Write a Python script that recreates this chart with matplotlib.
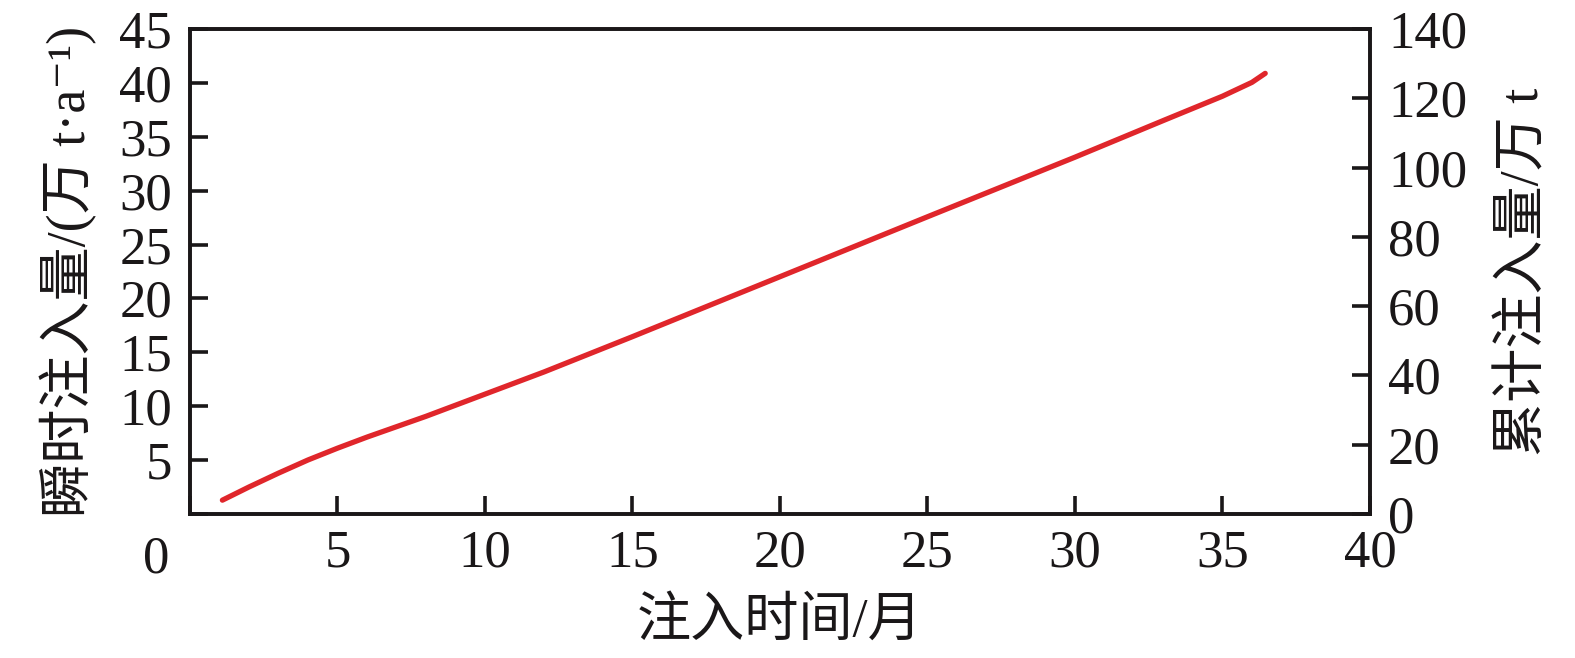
import numpy as np
import matplotlib
matplotlib.use("Agg")
import matplotlib.pyplot as plt

plt.rcParams['font.family'] = ['Liberation Serif', 'Noto Sans CJK SC', 'DejaVu Sans']

# cumulative injection (万 t) vs injection time (months)
months = [1.1, 2, 3, 4, 5, 6, 8, 10, 12, 15, 20, 25, 30, 33, 35, 36, 36.45]
cumulative = [4.0, 7.8, 11.8, 15.6, 19.0, 22.2, 28.2, 34.6, 41.0, 51.2, 68.5,
              85.8, 103.0, 113.6, 120.6, 124.6, 127.2]

x_ticks = [0, 5, 10, 15, 20, 25, 30, 35, 40]
left_ticks = [0, 5, 10, 15, 20, 25, 30, 35, 40, 45]
right_ticks = [0, 20, 40, 60, 80, 100, 120, 140]

fig = plt.figure(figsize=(15.75, 6.58), dpi=100)
ax = fig.add_axes([0.1206, 0.2188, 0.7492, 0.7371])
ax2 = ax.twinx()

ax2.plot(months, cumulative, color='#e0262b', lw=3.8, solid_capstyle='round')

fs = 38
lfs = 39
ink = '#1a1718'
ax.set_xlim(0, 40)
ax.set_ylim(0, 45)
ax2.set_ylim(0, 140)

ax.set_xticks(x_ticks)
ax.set_xticklabels([''] + [str(t) for t in x_ticks[1:]])
ax.set_yticks(left_ticks)
ax.set_yticklabels([''] + [str(t) for t in left_ticks[1:]])
ax2.set_yticks(right_ticks)

for a in (ax, ax2):
    for s in a.spines.values():
        s.set_linewidth(2.6)
        s.set_color(ink)
ax.tick_params(axis='both', direction='in', length=13, width=2.6,
               labelsize=fs, pad=13, colors=ink)
ax.tick_params(axis='x', pad=11)
ax2.tick_params(axis='y', direction='in', length=13, width=2.6,
                labelsize=fs, pad=13, colors=ink)

# shared origin label
ax.text(-0.029, -0.045, '0', transform=ax.transAxes, ha='center', va='top',
        fontsize=fs, color=ink)

ax.set_xlabel('注入时间/月', fontsize=lfs, labelpad=14, color=ink)
ax.set_ylabel('瞬时注入量/(万 t·a⁻¹)', fontsize=lfs, labelpad=16, color=ink)
ax2.set_ylabel('累计注入量/万 t', fontsize=lfs, labelpad=24, color=ink)

fig.savefig('out.png', dpi=100)
